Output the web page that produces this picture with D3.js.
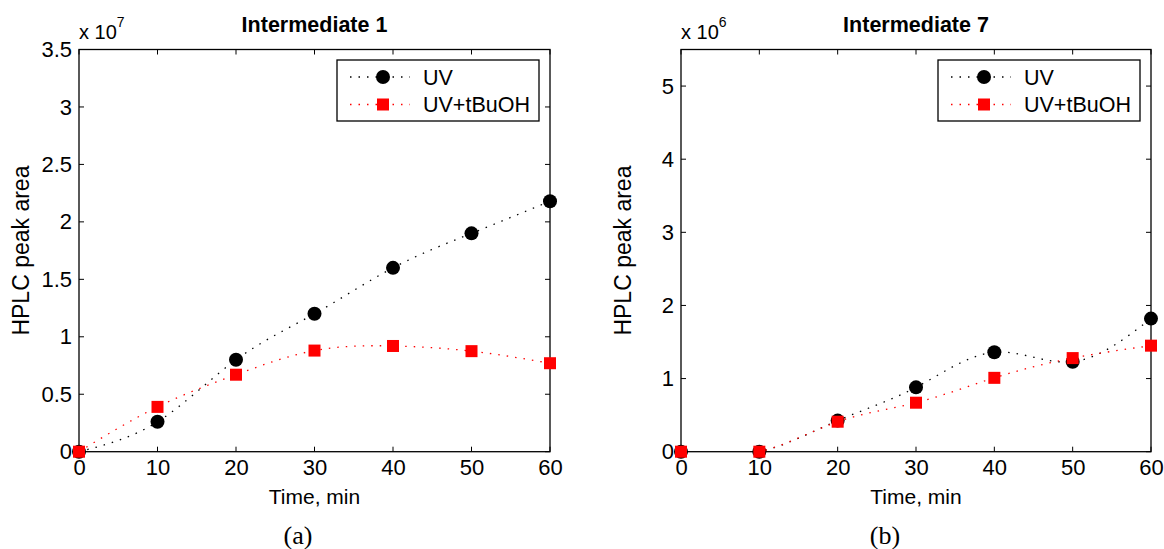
<!DOCTYPE html>
<html>
<head>
<meta charset="utf-8">
<script src="https://cdn.jsdelivr.net/npm/d3@7"></script>
<style>
  body { margin: 0; background: #fff; }
  svg text { font-family: "Liberation Sans", Arial, sans-serif; fill: #000; }
  .caption { font-family: "Liberation Serif", "DejaVu Serif", serif; }
</style>
</head>
<body>
<svg id="chart" width="1164" height="549"></svg>
<script>
// Data
const times = [0, 10, 20, 30, 40, 50, 60];
const uvInt1 = [0, 0.26e7, 0.80e7, 1.20e7, 1.60e7, 1.90e7, 2.18e7];
const tbuInt1 = [0, 0.39e7, 0.67e7, 0.88e7, 0.92e7, 0.875e7, 0.77e7];
const uvInt7 = [0, 0, 0.425e6, 0.88e6, 1.36e6, 1.23e6, 1.82e6];
const tbuInt7 = [0, 0, 0.41e6, 0.67e6, 1.01e6, 1.28e6, 1.45e6];
const xTicks = [0, 10, 20, 30, 40, 50, 60];
const yTicks1 = [0, 0.5e7, 1e7, 1.5e7, 2e7, 2.5e7, 3e7, 3.5e7];
const yTicks7 = [0, 1e6, 2e6, 3e6, 4e6, 5e6];
const seriesNames = ["UV", "UV+tBuOH"];

const svg = d3.select("#chart");

const panels = [
  {title: "Intermediate 1", caption: "(a)", left: 79, right: 550, yMax: 3.5e7, exp: 7,
   yTicks: yTicks1, uv: uvInt1, tbu: tbuInt1, capX: 298},
  {title: "Intermediate 7", caption: "(b)", left: 681, right: 1151, yMax: 5.5e6, exp: 6,
   yTicks: yTicks7, uv: uvInt7, tbu: tbuInt7, capX: 885}
];
const plotTop = 49.5, plotBottom = 451.7, tickLen = 5;

panels.forEach((p, i) => {
  const x = d3.scaleLinear().domain([0, 60]).range([p.left, p.right]);
  const y = d3.scaleLinear().domain([0, p.yMax]).range([plotBottom, plotTop]);
  const g = svg.append("g");
  const fmtY = d => d === 0 ? "0" : d3.format("~g")(d / Math.pow(10, p.exp));

  // axes: labels outside, inward ticks, mirrored top/right
  const xAxis = d3.axisBottom(x).tickValues(xTicks).tickSize(0).tickPadding(8);
  const yAxis = d3.axisLeft(y).tickValues(p.yTicks).tickFormat(fmtY).tickSize(0).tickPadding(7);
  g.append("g").attr("transform", `translate(0,${plotBottom})`).call(xAxis)
    .call(a => a.select(".domain").remove())
    .selectAll("text").attr("font-size", 22).attr("font-family", null);
  g.append("g").attr("transform", `translate(${p.left},0)`).call(yAxis)
    .call(a => a.select(".domain").remove())
    .selectAll("text").attr("font-size", 22).attr("font-family", null);

  const ticks = g.append("g").attr("stroke", "#000").attr("stroke-width", 1);
  xTicks.forEach(t => {
    ticks.append("line").attr("x1", x(t)).attr("x2", x(t)).attr("y1", plotBottom).attr("y2", plotBottom - tickLen);
    ticks.append("line").attr("x1", x(t)).attr("x2", x(t)).attr("y1", plotTop).attr("y2", plotTop + tickLen);
  });
  p.yTicks.forEach(t => {
    ticks.append("line").attr("x1", p.left).attr("x2", p.left + tickLen).attr("y1", y(t)).attr("y2", y(t));
    ticks.append("line").attr("x1", p.right).attr("x2", p.right - tickLen).attr("y1", y(t)).attr("y2", y(t));
  });
  g.append("rect").attr("x", p.left).attr("y", plotTop)
    .attr("width", p.right - p.left).attr("height", plotBottom - plotTop)
    .attr("fill", "none").attr("stroke", "#000").attr("stroke-width", 1.3);

  // clip for curves
  const clipId = "clip" + i;
  svg.append("clipPath").attr("id", clipId).append("rect")
    .attr("x", p.left).attr("y", plotTop).attr("width", p.right - p.left).attr("height", plotBottom - plotTop);

  const line = d3.line().x((d, j) => x(times[j])).y(d => y(d)).curve(d3.curveNatural);

  // UV series
  g.append("path").attr("d", line(p.uv)).attr("clip-path", `url(#${clipId})`)
    .attr("fill", "none").attr("stroke", "#000").attr("stroke-width", 1.3).attr("stroke-dasharray", "1.5,7");
  g.selectAll(".uv").data(p.uv).join("circle").attr("class", "uv")
    .attr("cx", (d, j) => x(times[j])).attr("cy", d => y(d)).attr("r", 7).attr("fill", "#000");

  // UV+tBuOH series
  g.append("path").attr("d", line(p.tbu)).attr("clip-path", `url(#${clipId})`)
    .attr("fill", "none").attr("stroke", "#f00").attr("stroke-width", 1.3).attr("stroke-dasharray", "1.5,7");
  g.selectAll(".tbu").data(p.tbu).join("rect").attr("class", "tbu")
    .attr("x", (d, j) => x(times[j]) - 6).attr("y", d => y(d) - 6)
    .attr("width", 12).attr("height", 12).attr("fill", "#f00");

  // exponent
  const ex = g.append("text").attr("x", p.left).attr("y", 39).attr("font-size", 20);
  ex.append("tspan").text("x 10");
  ex.append("tspan").attr("dy", -12).attr("font-size", 14).text(p.exp);

  // title, axis labels, caption
  g.append("text").attr("x", (p.left + p.right) / 2).attr("y", 32).attr("text-anchor", "middle")
    .attr("font-size", 21.5).attr("font-weight", "bold").text(p.title);
  g.append("text").attr("x", (p.left + p.right) / 2).attr("y", 504).attr("text-anchor", "middle")
    .attr("font-size", 21).text("Time, min");
  g.append("text").attr("transform", `translate(${p.left - 50},${(plotTop + plotBottom) / 2}) rotate(-90)`)
    .attr("text-anchor", "middle").attr("font-size", 23).text("HPLC peak area");
  g.append("text").attr("class", "caption").attr("x", p.capX).attr("y", 544)
    .attr("text-anchor", "middle").attr("font-size", 26).text(p.caption);

  // legend
  const lx = p.right - 213, ly = 60;
  const lg = g.append("g");
  lg.append("rect").attr("x", lx).attr("y", ly).attr("width", 202).attr("height", 61)
    .attr("fill", "#fff").attr("stroke", "#000").attr("stroke-width", 1.3);
  [["#000", "circle"], ["#f00", "rect"]].forEach(([c, m], k) => {
    const cy = ly + 17 + k * 27.5;
    lg.append("line").attr("x1", lx + 13).attr("x2", lx + 73).attr("y1", cy).attr("y2", cy)
      .attr("stroke", c).attr("stroke-width", 1.3).attr("stroke-dasharray", "1.5,7");
    if (m === "circle") lg.append("circle").attr("cx", lx + 46).attr("cy", cy).attr("r", 7).attr("fill", c);
    else lg.append("rect").attr("x", lx + 40).attr("y", cy - 6).attr("width", 12).attr("height", 12).attr("fill", c);
    lg.append("text").attr("x", lx + 86).attr("y", cy + 7.5).attr("font-size", 21.5).text(seriesNames[k]);
  });
});
</script>
</body>
</html>
